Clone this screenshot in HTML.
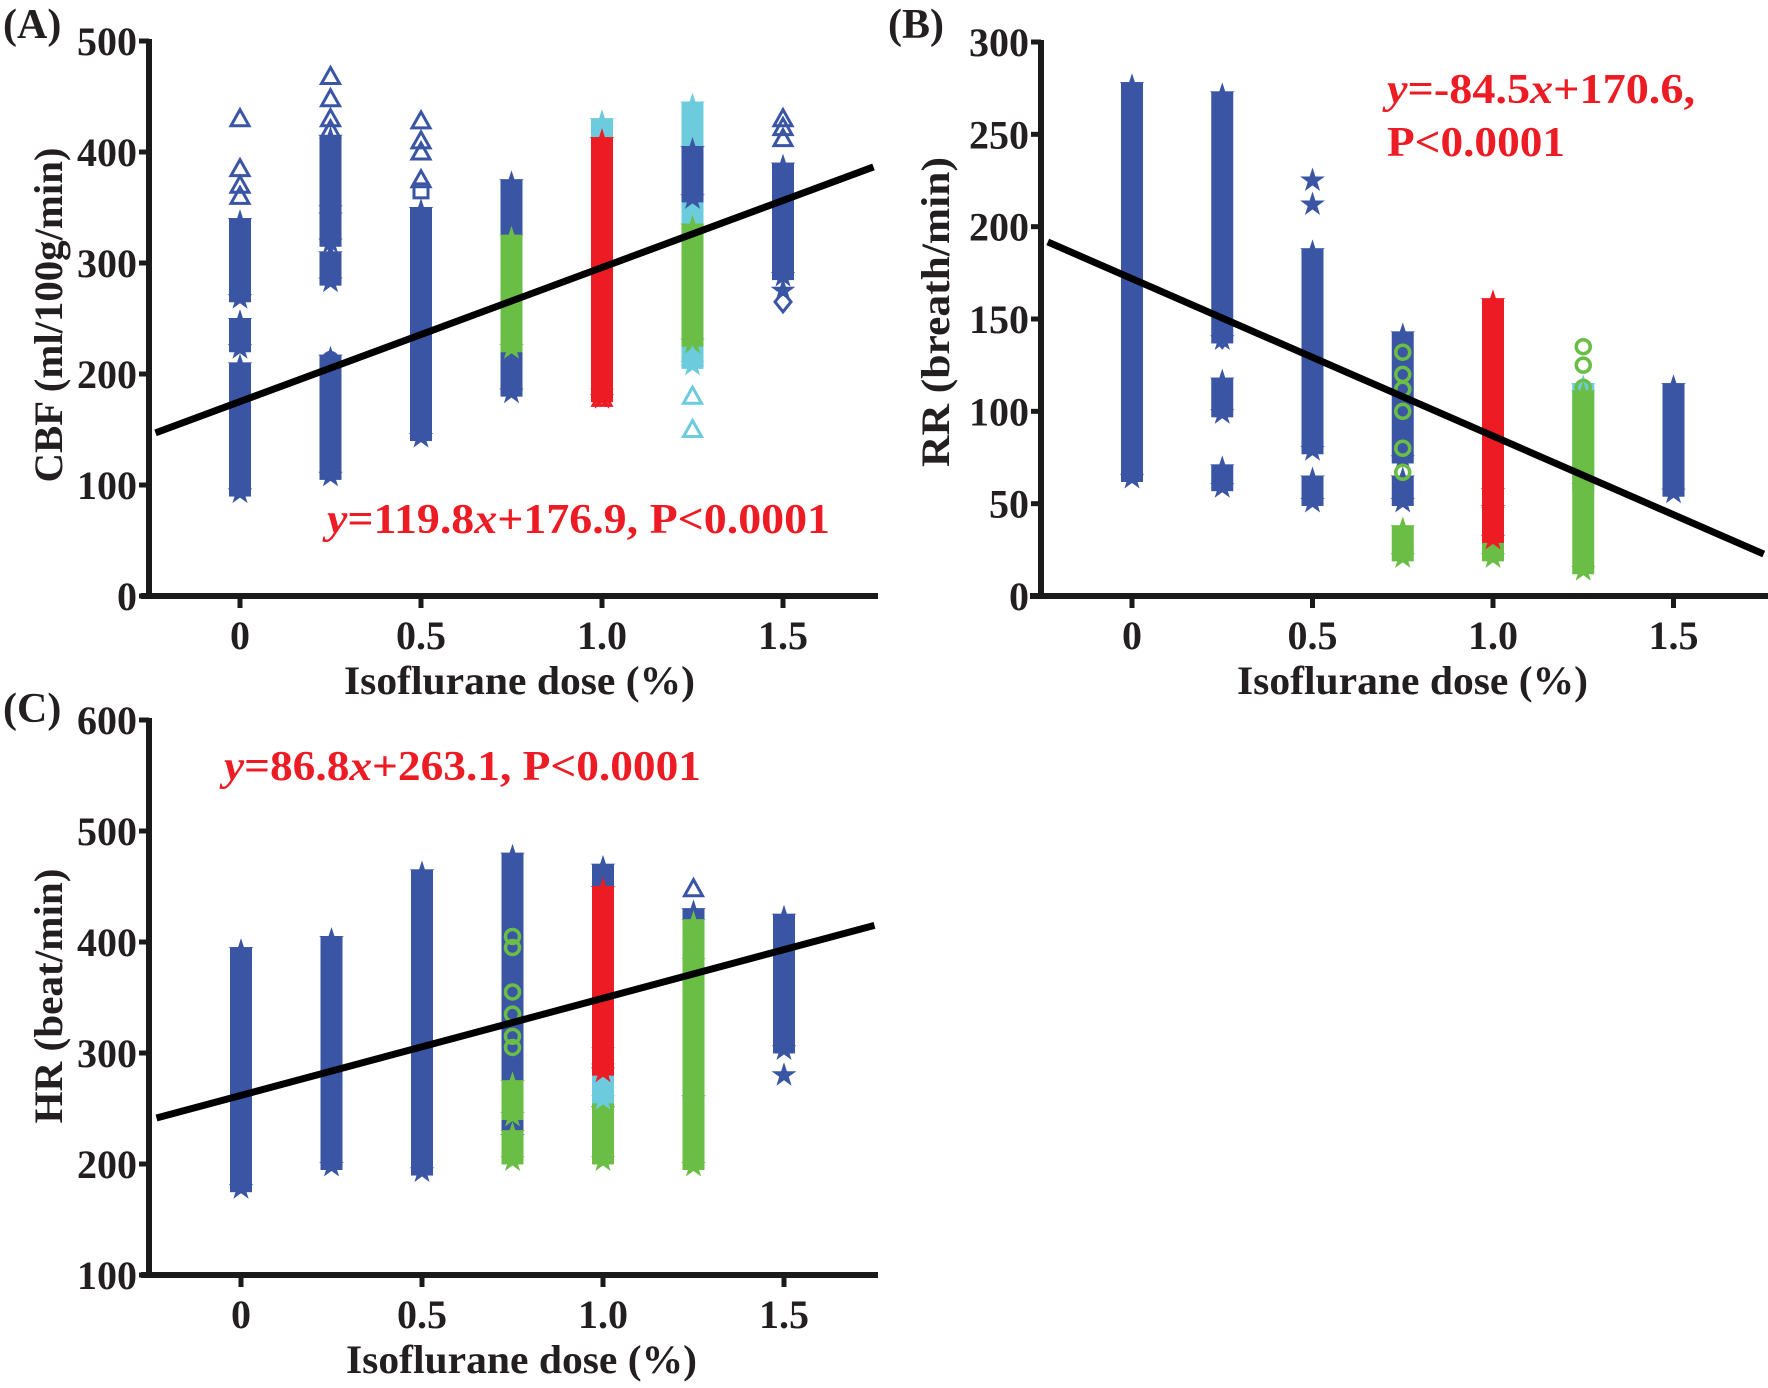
<!DOCTYPE html>
<html><head><meta charset="utf-8"><style>
html,body{margin:0;padding:0;background:#fff}
svg{display:block}
text{font-family:"Liberation Serif","Times New Roman",serif;font-weight:bold}
</style></head><body>
<svg id="fig" width="1768" height="1388" viewBox="0 0 1768 1388"></svg>
<script>
const BLUE="#3a55a4",RED="#ed1c24",GREEN="#6abd45",CYAN="#6ccbdc";
const xTicks=[0,0.5,1.0,1.5];
const xTickLabels=["0","0.5","1.0","1.5"];

// Panel A (CBF)
const A_yTicks=[0,100,200,300,400,500];
const A_bandX=[0,0,0,0.25,0.25,0.25,0.25,0.5,0.75,0.75,1.0,1.0,1.25,1.25,1.25,1.5];
const A_bandC=["B","B","B","B","B","B","B","B","B","G","C","R","C","B","G","B"];
const A_bandLo=[95,270,225,110,285,320,350,145,185,225,185,180,210,360,230,290];
const A_bandHi=[205,335,245,212,305,340,410,345,370,320,425,408,440,400,330,385];
const A_ptX=[0,0,0,0,0.25,0.25,0.25,0.25,0.5,0.5,0.5,0.5,0.5,1.0,1.25,1.25,1.25,1.5,1.5,1.5,1.5,1.5,0.25];
const A_ptV=[430,385,370,360,468,448,430,420,428,410,400,375,365,178,150,180,215,430,422,412,265,275,213];
const A_ptS=["tri","tri","tri","tri","tri","tri","tri","tri","tri","tri","tri","tri","sq","tri","tri","tri","tri","tri","tri","tri","dia","star","circ"];
const A_ptC=["B","B","B","B","B","B","B","B","B","B","B","B","B","R","C","C","C","B","B","B","B","B","B"];
const A_slope=119.8, A_icpt=176.9;

// Panel B (RR)
const B_yTicks=[0,50,100,150,200,250,300];
const B_bandX=[0,0.25,0.25,0.25,0.5,0.5,0.75,0.75,0.75,1.0,1.0,1.0,1.25,1.25,1.5];
const B_bandC=["B","B","B","B","B","B","B","B","G","G","B","R","C","G","B"];
const B_bandLo=[65,140,100,60,80,52,52,75,22,22,48,32,60,15,57];
const B_bandHi=[275,270,115,68,185,62,62,140,35,45,55,158,112,108,112];
const B_ptX=[0.5,0.5,0.75,0.75,0.75,0.75,0.75,0.75,1.25,1.25,1.25,0.25,0.25,0.25];
const B_ptV=[225,212,132,120,112,100,80,67,135,125,113,165,158,140];
const B_ptS=["star","star","circ","circ","circ","circ","circ","circ","circ","circ","circ","circ","circ","dia"];
const B_ptC=["B","B","G","G","G","G","G","G","G","G","G","B","B","B"];
const B_slope=-84.5, B_icpt=170.6;

// Panel C (HR)
const C_yTicks=[100,200,300,400,500,600];
const C_bandX=[0,0.25,0.5,0.75,0.75,0.75,1.0,1.0,1.0,1.0,1.25,1.25,1.25,1.5];
const C_bandC=["B","B","B","B","G","G","B","G","C","R","B","C","G","B"];
const C_bandLo=[180,200,195,225,205,245,250,205,260,285,260,260,200,305];
const C_bandHi=[390,400,460,475,225,270,465,285,300,445,425,380,415,420];
const C_ptX=[0.75,0.75,0.75,0.75,0.75,0.75,1.5,1.25,0.25,0.25,0.5,1.25,1.25];
const C_ptV=[405,395,355,335,315,305,280,448,255,262,272,350,340];
const C_ptS=["circ","circ","circ","circ","circ","circ","star","tri","circ","circ","circ","circ","circ"];
const C_ptC=["G","G","G","G","G","G","B","B","B","B","B","G","G"];
const C_slope=86.8, C_icpt=263.1;

const COL={B:BLUE,R:RED,G:GREEN,C:CYAN};
const NS="http://www.w3.org/2000/svg";
const svg=document.getElementById('fig');
function mk(tag,attrs,parent){const e=document.createElementNS(NS,tag);for(const k in attrs)e.setAttribute(k,attrs[k]);(parent||svg).appendChild(e);return e;}

function marker(g,shape,cx,cy,color){
  let e;
  if(shape==="tri"){e=mk('polygon',{points:`${cx},${cy-9} ${cx+9},${cy+7} ${cx-9},${cy+7}`,fill:"none",stroke:color,"stroke-width":3},g);}
  else if(shape==="sq"){e=mk('rect',{x:cx-7,y:cy-7,width:14,height:14,fill:"none",stroke:color,"stroke-width":3},g);}
  else if(shape==="circ"){e=mk('circle',{cx:cx,cy:cy,r:7,fill:"none",stroke:color,"stroke-width":3.5},g);}
  else if(shape==="dia"){e=mk('polygon',{points:`${cx},${cy-10} ${cx+8},${cy} ${cx},${cy+10} ${cx-8},${cy}`,fill:"none",stroke:color,"stroke-width":3},g);}
  else {let p=[];for(let i=0;i<10;i++){const r=i%2?5:13,a=-Math.PI/2+i*Math.PI/5;p.push((cx+r*Math.cos(a)).toFixed(1)+","+(cy+r*Math.sin(a)).toFixed(1));}
    e=mk('polygon',{points:p.join(" "),fill:color},g);}
  
  
}

function panel(P){
  const g=mk('g',{});
  
  
  const xs=v=>P.x0+v*P.xpu;
  const ys=v=>P.yBot-(v-P.yMin)*(P.yBot-P.yTop)/(P.yMax-P.yMin);
  for(let i=0;i<P.bx.length;i++){
    const cx=xs(P.bx[i]),y1=ys(P.bhi[i]),y2=ys(P.blo[i]),c=COL[P.bc[i]];
    const r=mk('rect',{x:cx-11,y:y1-6,width:22,height:y2-y1+12,fill:c},g);
    
    
    marker(g,"star",cx,y1-2,c);marker(g,"star",cx,y2+2,c);
  }
  for(let i=0;i<P.px.length;i++) marker(g,P.ps[i],xs(P.px[i]),ys(P.pv[i]),COL[P.pc[i]]);
  const xa=-0.25,xb=1.75;
  const ln=mk('line',{x1:xs(xa)+6,y1:ys(P.slope*xa+P.icpt),x2:xs(xb),y2:ys(P.slope*xb+P.icpt),stroke:"#000","stroke-width":7},g);
  
  
  const ya=mk('line',{x1:P.ax,y1:P.yTop-2,x2:P.ax,y2:P.yBot+3,stroke:"#1a1a1a","stroke-width":6},g);
  
  
  const xaL=mk('line',{x1:P.xl,y1:P.yBot,x2:P.xr,y2:P.yBot,stroke:"#1a1a1a","stroke-width":6},g);
  
  
  P.yt.forEach(v=>{
    const y=ys(v);
    mk('line',{x1:P.ax-10,y1:y,x2:P.ax,y2:y,stroke:"#1a1a1a","stroke-width":5},g);
    const t=mk('text',{x:P.ax-12,y:y+14,"text-anchor":"end","font-size":40,fill:"#231f20"},g);
    t.textContent=v;
    
    
  });
  xTicks.forEach((v,i)=>{
    const x=xs(v);
    mk('line',{x1:x,y1:P.yBot,x2:x,y2:P.yBot+12,stroke:"#1a1a1a","stroke-width":5},g);
    const t=mk('text',{x:x,y:P.yBot+53,"text-anchor":"middle","font-size":40,fill:"#231f20"},g);
    t.textContent=xTickLabels[i];
    
    
  });
  const xt=mk('text',{x:P.xtX,y:P.yBot+98,"text-anchor":"start","font-size":40,fill:"#231f20",textLength:351,lengthAdjust:"spacingAndGlyphs"},g);
  xt.textContent="Isoflurane dose (%)";
  
  
  const yt=mk('text',{x:0,y:0,"text-anchor":"middle","font-size":40,fill:"#231f20",transform:`translate(${P.ytX},${P.ytY}) rotate(-90)`,textLength:P.ytLen,lengthAdjust:"spacingAndGlyphs"},g);
  yt.textContent=P.ytitle;
  
  
  const pl=mk('text',{x:P.plX,y:P.plY,"font-size":42,fill:"#231f20"},g);
  pl.textContent=P.plabel;
  
  
}

panel({name:"panel-a-cbf",x0:240,xpu:362,yMin:0,yMax:500,yTop:41,yBot:596,ax:149,xl:141,xr:878,
  bx:A_bandX,bc:A_bandC,blo:A_bandLo,bhi:A_bandHi,px:A_ptX,pv:A_ptV,ps:A_ptS,pc:A_ptC,slope:A_slope,icpt:A_icpt,
  yt:A_yTicks,xtX:344,ytX:62,ytY:315,ytLen:335,ytitle:"CBF (ml/100g/min)",plabel:"(A)",plX:3,plY:38});
panel({name:"panel-b-rr",x0:1132,xpu:361,yMin:0,yMax:300,yTop:42,yBot:596,ax:1041,xl:1030,xr:1768,
  bx:B_bandX,bc:B_bandC,blo:B_bandLo,bhi:B_bandHi,px:B_ptX,pv:B_ptV,ps:B_ptS,pc:B_ptC,slope:B_slope,icpt:B_icpt,
  yt:B_yTicks,xtX:1237,ytX:949,ytY:312,ytLen:310,ytitle:"RR (breath/min)",plabel:"(B)",plX:888,plY:38});
panel({name:"panel-c-hr",x0:241,xpu:362,yMin:100,yMax:600,yTop:720,yBot:1275,ax:149,xl:141,xr:878,
  bx:C_bandX,bc:C_bandC,blo:C_bandLo,bhi:C_bandHi,px:C_ptX,pv:C_ptV,ps:C_ptS,pc:C_ptC,slope:C_slope,icpt:C_icpt,
  yt:C_yTicks,xtX:346,ytX:62,ytY:996,ytLen:255,ytitle:"HR (beat/min)",plabel:"(C)",plX:3,plY:722});

function eq(x,y,len,parts,name){
  const t=mk('text',{x:x,y:y,"font-size":42,fill:RED,textLength:len,lengthAdjust:"spacingAndGlyphs"});
  
  
  parts.forEach(p=>{const s=mk('tspan',{},t);if(p[1])s.setAttribute('font-style','italic');s.textContent=p[0];});
}
eq(327,533,503,[["y",1],["=119.8",0],["x",1],["+176.9, P<0.0001",0]],"equation-a");
eq(1387,103,308,[["y",1],["=-84.5",0],["x",1],["+170.6,",0]],"equation-b");
eq(1387,156,178,[["P<0.0001",0]],"p-value-b");
eq(224,780,477,[["y",1],["=86.8",0],["x",1],["+263.1, P<0.0001",0]],"equation-c");
</script>
</body></html>
